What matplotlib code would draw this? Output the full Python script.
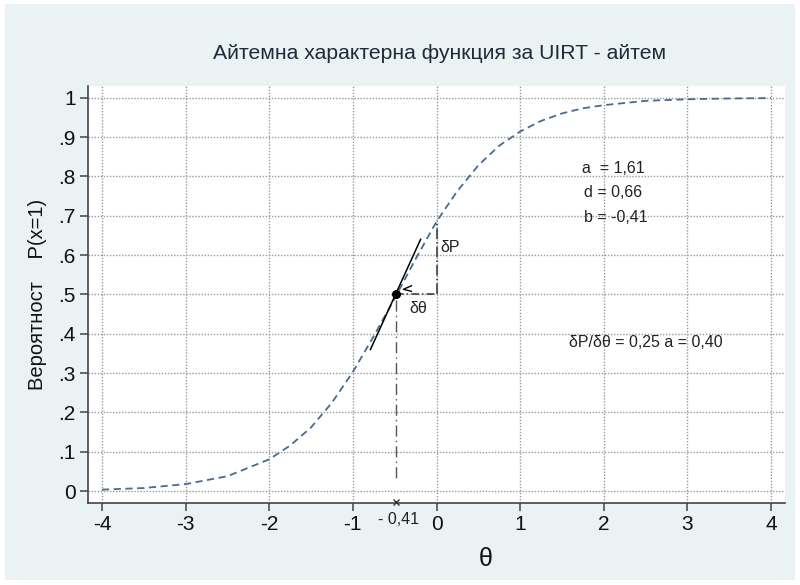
import matplotlib.pyplot as plt
from matplotlib.patches import Rectangle

plt.rcParams["font.family"] = ["Liberation Sans", "DejaVu Sans"]
plt.rcParams["axes.unicode_minus"] = False

# values
theta = [-4, -3.5, -3, -2.5, -2, -1.75, -1.5, -1.25, -1, -0.75, -0.5, -0.25,
         0, 0.25, 0.5, 0.75, 1, 1.25, 1.5, 1.75, 2, 2.5, 3, 3.5, 4]
prob = [0.004, 0.008, 0.018, 0.038, 0.081, 0.116, 0.162, 0.225, 0.303, 0.394,
        0.49, 0.59, 0.685, 0.763, 0.828, 0.878, 0.914, 0.941, 0.96, 0.973,
        0.981, 0.992, 0.996, 0.998, 0.999]

# tangent line and the point it touches
tangent_x = [-0.79, -0.19]
tangent_y = [0.36, 0.64]
point_x, point_y = -0.48, 0.50
p_at_zero = 0.69

xticks = [-4, -3, -2, -1, 0, 1, 2, 3, 4]
yticks = [0, 0.1, 0.2, 0.3, 0.4, 0.5, 0.6, 0.7, 0.8, 0.9, 1]
ytick_labels = ["0", ".1", ".2", ".3", ".4", ".5", ".6", ".7", ".8", ".9", "1"]

params = ["a  = 1,61", "d = 0,66", "b = -0,41"]
slope_text = "δP/δθ = 0,25 a = 0,40"

bg = "#eaf2f3"
fig = plt.figure(figsize=(8, 5.85), dpi=100, facecolor="white")
fig.patches.append(Rectangle((5 / 800, 5 / 585), 790 / 800, 576 / 585,
                             transform=fig.transFigure, facecolor=bg,
                             edgecolor="none", zorder=-10))
ax = fig.add_axes([0.11, 0.1402, 0.87125, 0.713])
ax.set_facecolor("white")

ax.plot(theta, prob, color="#4a6a8f", lw=1.3, ls=(0, (4, 2.5)), zorder=3)
ax.plot(tangent_x, tangent_y, color="black", lw=1.1, zorder=4)
ax.plot([point_x], [point_y], "o", color="black", ms=5.5, zorder=5)

# small arrow head
ax.plot([-0.30, -0.396, -0.30], [0.522, 0.513, 0.508], color="black", lw=1.0, zorder=4)

# delta lines
ax.plot([point_x, 0], [point_y, point_y], color="#333333", lw=1.1,
        ls=(0, (5, 2, 1, 2)), zorder=3)
ax.plot([0, 0], [point_y, p_at_zero], color="#333333", lw=1.1,
        ls=(0, (7, 2, 1, 2)), zorder=3)
ax.plot([point_x, point_x], [point_y - 0.015, 0.03], color="#555555", lw=1.0,
        ls=(0, (8, 3, 1, 3)), zorder=3)
ax.plot([point_x], [-0.027], marker="x", color="#333333", ms=5, mew=1.0,
        clip_on=False, zorder=6)
ax.text(point_x + 0.02, -0.072, "- 0,41", ha="center", va="center",
        fontsize=11.5, color="#222222", clip_on=False)

ax.text(0.05, 0.62, "δP", fontsize=11.5, va="center", color="#222222")
ax.text(-0.33, 0.463, "δθ", fontsize=11.5, va="center", color="#222222")

for i, s in enumerate(params):
    ax.text(1.74 + (0.02 if i else 0), 0.82 - i * 0.062, s, fontsize=11.5,
            va="center", color="#222222")
ax.text(1.59, 0.377, slope_text, fontsize=11.5, va="center", color="#222222")

ax.set_xlim(-4.167, 4.167)
ax.set_ylim(-0.03, 1.03)
ax.set_xticks(xticks)
ax.set_yticks(yticks)
ax.set_yticklabels(ytick_labels)
ax.grid(True, color="#9a9a9a", ls=(0, (1, 1.2)), lw=1.0)
ax.set_axisbelow(True)

for side in ["top", "right"]:
    ax.spines[side].set_visible(False)
for side in ["left", "bottom"]:
    ax.spines[side].set_color("#444444")
    ax.spines[side].set_linewidth(1.2)
ax.tick_params(axis="both", length=6, width=1.1, color="#444444",
               labelsize=15, labelcolor="#111111", pad=3)

ax.set_xlabel("θ", fontsize=18, color="#111111")
ax.xaxis.set_label_coords(0.571, -0.105)
ax.set_ylabel("Вероятност    P(x=1)", fontsize=14.5, color="#111111", labelpad=8)
fig.text(0.55, 0.908, "Айтемна характерна функция за UIRT - айтем",
         ha="center", va="center", fontsize=15.2, color="#1f2a3a")

fig.savefig("out.png", dpi=100, facecolor=fig.get_facecolor())
